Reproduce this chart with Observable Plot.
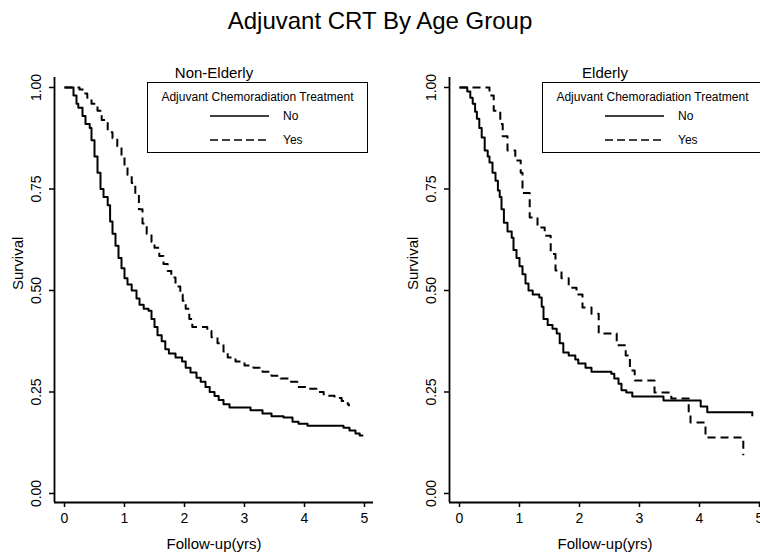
<!DOCTYPE html>
<html>
<head>
<meta charset="utf-8">
<script src="https://cdn.jsdelivr.net/npm/d3@7"></script>
<script src="https://cdn.jsdelivr.net/npm/@observablehq/plot@0.6"></script>
<style>
  html, body { margin: 0; padding: 0; background: #fff; overflow: hidden; }
  #wrap { position: relative; width: 760px; height: 560px; overflow: hidden;
          font-family: "Liberation Sans", Arial, Helvetica, sans-serif; color: #000; }
  #title { height: 40px; line-height: 42px; text-align: center; font-size: 24px; }
  #panels { display: flex; }
  .legend { position: absolute; top: 82px; width: 221px; height: 71px; border: 1.5px solid #000;
            box-sizing: border-box; background: #fff; font-size: 12px; }
  .legend .lt { position: absolute; top: 7px; left: 0; width: 100%; text-align: center; white-space: nowrap; }
  .legend .row { position: absolute; left: 62px; height: 14px; display: flex; align-items: center; }
  .legend .row span { margin-left: 14px; }
</style>
</head>
<body>
<div id="wrap">
  <div id="title">Adjuvant CRT By Age Group</div>
  <div id="panels"></div>
</div>
<script>
// ---------------- data ----------------
const panelTitles = ["Non-Elderly", "Elderly"];
const groupLabels = ["No", "Yes"];
const legendTitle = "Adjuvant Chemoradiation Treatment";
const xTicks = [0, 1, 2, 3, 4, 5];
const yTicks = [0, 0.25, 0.5, 0.75, 1];

// Non-Elderly, no adjuvant CRT
const neTimeNo = [0, 0.15, 0.2, 0.23, 0.3, 0.35, 0.42, 0.45, 0.5, 0.55, 0.6, 0.65, 0.72, 0.76, 0.8, 0.85, 0.9, 0.95, 1.0, 1.05, 1.12, 1.2, 1.25, 1.32, 1.4, 1.45, 1.5, 1.55, 1.62, 1.68, 1.74, 1.85, 1.96, 2.02, 2.1, 2.2, 2.27, 2.35, 2.42, 2.5, 2.57, 2.65, 2.75, 3.1, 3.3, 3.45, 3.65, 3.8, 3.9, 4.05, 4.65, 4.75, 4.85, 4.92, 4.98];
const neSurvNo = [1.0, 0.98, 0.96, 0.95, 0.93, 0.91, 0.90, 0.87, 0.83, 0.79, 0.75, 0.73, 0.71, 0.67, 0.64, 0.61, 0.58, 0.555, 0.53, 0.515, 0.50, 0.48, 0.465, 0.455, 0.45, 0.43, 0.41, 0.39, 0.375, 0.355, 0.345, 0.335, 0.325, 0.31, 0.298, 0.285, 0.275, 0.262, 0.25, 0.24, 0.23, 0.22, 0.212, 0.205, 0.197, 0.19, 0.187, 0.177, 0.172, 0.167, 0.162, 0.155, 0.148, 0.143, 0.143];

// Non-Elderly, adjuvant CRT
const neTimeYes = [0, 0.25, 0.32, 0.38, 0.45, 0.55, 0.62, 0.72, 0.8, 0.88, 0.95, 1.0, 1.05, 1.12, 1.18, 1.24, 1.3, 1.37, 1.45, 1.5, 1.58, 1.65, 1.72, 1.78, 1.85, 1.93, 1.97, 2.02, 2.08, 2.13, 2.38, 2.45, 2.55, 2.65, 2.72, 2.85, 3.0, 3.15, 3.3, 3.45, 3.6, 3.75, 3.88, 4.05, 4.2, 4.32, 4.5, 4.62, 4.72, 4.74];
const neSurvYes = [1.0, 0.995, 0.985, 0.975, 0.96, 0.943, 0.92, 0.89, 0.875, 0.855, 0.83, 0.805, 0.785, 0.765, 0.735, 0.70, 0.665, 0.64, 0.62, 0.605, 0.585, 0.565, 0.548, 0.532, 0.51, 0.49, 0.475, 0.455, 0.43, 0.41, 0.40, 0.385, 0.37, 0.35, 0.335, 0.325, 0.315, 0.31, 0.30, 0.29, 0.283, 0.275, 0.262, 0.258, 0.25, 0.241, 0.235, 0.228, 0.22, 0.215];

// Elderly, no adjuvant CRT
const elTimeNo = [0, 0.13, 0.18, 0.22, 0.26, 0.29, 0.33, 0.37, 0.42, 0.47, 0.5, 0.55, 0.6, 0.64, 0.67, 0.7, 0.74, 0.8, 0.87, 0.9, 0.95, 1.0, 1.05, 1.1, 1.15, 1.22, 1.33, 1.37, 1.4, 1.47, 1.55, 1.62, 1.67, 1.73, 1.82, 1.93, 1.98, 2.1, 2.2, 2.53, 2.58, 2.65, 2.7, 2.78, 2.88, 3.4, 4.02, 4.13, 4.88];
const elSurvNo = [1.0, 0.99, 0.975, 0.96, 0.94, 0.923, 0.90, 0.877, 0.845, 0.83, 0.815, 0.79, 0.77, 0.746, 0.73, 0.70, 0.667, 0.645, 0.63, 0.60, 0.58, 0.56, 0.54, 0.517, 0.50, 0.49, 0.483, 0.46, 0.43, 0.415, 0.406, 0.394, 0.37, 0.347, 0.34, 0.33, 0.32, 0.31, 0.30, 0.295, 0.283, 0.27, 0.254, 0.249, 0.239, 0.229, 0.214, 0.20, 0.19];

// Elderly, adjuvant CRT
const elTimeYes = [0, 0.5, 0.57, 0.68, 0.72, 0.8, 0.93, 1.02, 1.05, 1.17, 1.3, 1.42, 1.52, 1.6, 1.7, 1.82, 1.95, 2.05, 2.2, 2.32, 2.62, 2.77, 2.84, 2.92, 3.25, 3.53, 3.82, 3.85, 4.1, 4.73];
const elSurvYes = [1.0, 0.98, 0.943, 0.91, 0.88, 0.845, 0.82, 0.79, 0.74, 0.68, 0.655, 0.635, 0.59, 0.549, 0.53, 0.507, 0.49, 0.458, 0.443, 0.394, 0.365, 0.34, 0.303, 0.278, 0.249, 0.234, 0.197, 0.175, 0.138, 0.094];

// ---------------- drawing ----------------
const FONT = '"Liberation Sans", Arial, Helvetica, sans-serif';
const yDomain = [-0.0222, 1.0246];

function panel(title, tNo, sNo, tYes, sYes, o) {
  const no = tNo.map((t, i) => ({t, s: sNo[i]}));
  const yes = tYes.map((t, i) => ({t, s: sYes[i]}));
  return Plot.plot({
    width: o.width,
    height: 520,
    marginLeft: o.marginLeft,
    marginRight: o.marginRight,
    marginTop: 37,
    marginBottom: 58,
    style: {fontFamily: FONT, fontSize: "14px", color: "#000", background: "transparent", overflow: "visible"},
    x: {domain: o.xDomain},
    y: {domain: yDomain},
    marks: [
      Plot.ruleX([o.xDomain[0]], {stroke: "#000", strokeWidth: 1.8}),
      Plot.ruleY([yDomain[0]], {stroke: "#000", strokeWidth: 1.8}),
      Plot.axisX({ticks: xTicks, tickFormat: d3.format("d"), tickSize: 5, tickPadding: 6, label: null, fontSize: 14, strokeWidth: 1.5}),
      Plot.axisY({ticks: yTicks, tickFormat: d3.format(".2f"), tickSize: 5, tickRotate: -90, tickPadding: 9, label: null, fontSize: 14, strokeWidth: 1.5}),
      Plot.line(no, {x: "t", y: "s", curve: "step-after", stroke: "#000", strokeWidth: 2, strokeLinecap: "butt"}),
      Plot.line(yes, {x: "t", y: "s", curve: "step-after", stroke: "#000", strokeWidth: 2, strokeLinecap: "butt", strokeDasharray: "8,5"}),
      Plot.text([title], {text: d => d, frameAnchor: "top", dy: -10, fontSize: 15}),
      Plot.text(["Survival"], {text: d => d, frameAnchor: "left", dx: -36, rotate: -90, fontSize: 15}),
      Plot.text(["Follow-up(yrs)"], {text: d => d, frameAnchor: "bottom", dy: 46, fontSize: 15})
    ]
  });
}

const panels = document.getElementById("panels");
panels.appendChild(panel(panelTitles[0], neTimeNo, neSurvNo, neTimeYes, neSurvYes,
  {width: 380, marginLeft: 54, marginRight: 7, xDomain: [-10 / 60, -10 / 60 + 319 / 60]}));
panels.appendChild(panel(panelTitles[1], elTimeNo, elSurvNo, elTimeYes, elSurvYes,
  {width: 380, marginLeft: 69, marginRight: 0, xDomain: [-10 / 60, -10 / 60 + 311 / 60]}));

function legend(left) {
  const box = document.createElement("div");
  box.className = "legend";
  box.style.left = left + "px";
  const t = document.createElement("div");
  t.className = "lt";
  t.textContent = legendTitle;
  box.appendChild(t);
  groupLabels.forEach((lab, i) => {
    const row = document.createElement("div");
    row.className = "row";
    row.style.top = (26 + i * 24) + "px";
    const dash = i === 1 ? ' stroke-dasharray="8,4"' : "";
    row.innerHTML = `<svg width="59" height="6"><line x1="0" x2="59" y1="3" y2="3" stroke="#000" stroke-width="1.5"${dash}/></svg><span>${lab}</span>`;
    box.appendChild(row);
  });
  document.getElementById("wrap").appendChild(box);
}
legend(147);
legend(542);
</script>
</body>
</html>
